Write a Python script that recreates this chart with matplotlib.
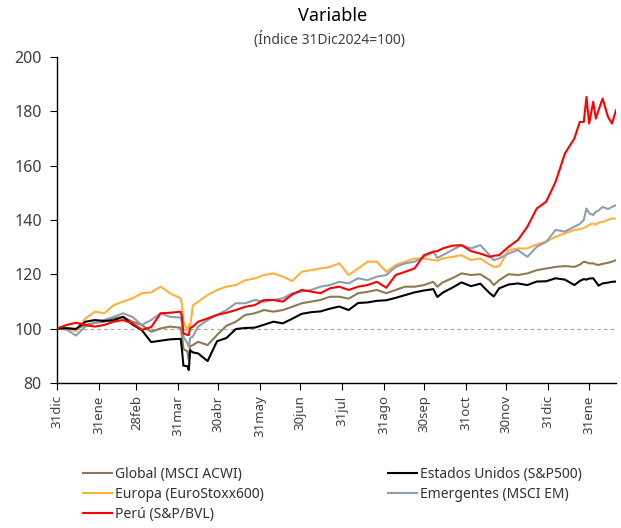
import matplotlib
matplotlib.use('Agg')
import matplotlib.pyplot as plt
import pandas as pd

plt.rcParams['font.family'] = ['Noto Sans', 'DejaVu Sans']

# dates of the sampled points (about weekly, denser around the april crash and jan-feb 2026)
dates = ['2024-12-31', '2025-01-07', '2025-01-14', '2025-01-21', '2025-01-28', '2025-02-04',
         '2025-02-11', '2025-02-18', '2025-02-25', '2025-03-04', '2025-03-11', '2025-03-18',
         '2025-03-25', '2025-04-02', '2025-04-03', '2025-04-04', '2025-04-07', '2025-04-08',
         '2025-04-09', '2025-04-11', '2025-04-15', '2025-04-22', '2025-04-29', '2025-05-06',
         '2025-05-13', '2025-05-20', '2025-05-27', '2025-06-03', '2025-06-10', '2025-06-17',
         '2025-06-24', '2025-07-01', '2025-07-08', '2025-07-15', '2025-07-22', '2025-07-29',
         '2025-08-05', '2025-08-12', '2025-08-19', '2025-08-26', '2025-09-02', '2025-09-09',
         '2025-09-16', '2025-09-23', '2025-09-30', '2025-10-07', '2025-10-10', '2025-10-14',
         '2025-10-21', '2025-10-28', '2025-11-04', '2025-11-11', '2025-11-18', '2025-11-21',
         '2025-11-25', '2025-12-02', '2025-12-09', '2025-12-16', '2025-12-23', '2025-12-30',
         '2026-01-06', '2026-01-13', '2026-01-20', '2026-01-24', '2026-01-27', '2026-01-29',
         '2026-01-31', '2026-02-03', '2026-02-05', '2026-02-07', '2026-02-10', '2026-02-14',
         '2026-02-17', '2026-02-20']

global_acwi = [100.0, 100.1, 99.8, 101.3, 102.1, 102.5, 103.7, 104.3, 102.5, 101.3, 98.8, 100.0,
               100.7, 100.3, 97.0, 92.5, 91.5, 88.4, 93.5, 93.9, 95.1, 93.9, 97.6, 101.0,
               102.5, 105.0, 105.6, 106.8, 106.2, 106.8, 108.0, 109.3, 109.9, 110.5, 111.7, 111.7,
               111.0, 113.0, 113.5, 114.2, 113.0, 114.2, 115.4, 115.4, 116.0, 117.2, 115.4, 117.0,
               118.5, 120.3, 119.7, 120.0, 117.8, 116.0, 117.8, 120.0, 119.7, 120.3, 121.5, 122.1,
               122.7, 123.0, 122.7, 123.5, 124.6, 124.4, 124.0, 124.0, 123.6, 123.4, 123.8, 124.2,
               124.6, 125.2]

usa_sp500 = [100.0, 100.1, 99.8, 102.5, 103.1, 102.8, 103.0, 104.3, 101.5, 99.4, 95.0, 95.5,
             96.0, 96.2, 91.8, 86.3, 86.1, 84.7, 92.0, 91.2, 90.8, 88.0, 95.3, 96.5,
             99.8, 100.2, 100.3, 101.4, 102.5, 101.9, 103.6, 105.4, 106.0, 106.3, 107.3, 108.1,
             106.8, 109.4, 109.6, 110.2, 110.4, 111.3, 112.3, 113.3, 114.0, 114.5, 111.6, 113.2,
             115.0, 117.0, 115.6, 116.5, 113.0, 111.8, 114.8, 116.2, 116.6, 116.0, 117.3, 117.4,
             118.5, 118.0, 116.0, 117.5, 118.2, 118.0, 118.4, 118.5, 117.2, 115.8, 116.6, 116.9,
             117.2, 117.3]

europa = [100.0, 100.0, 99.0, 103.7, 106.2, 105.6, 108.6, 109.9, 111.1, 113.0, 113.3, 115.4,
          113.0, 111.1, 108.5, 102.5, 99.4, 101.5, 100.5, 108.5, 109.9, 112.3, 114.2, 115.4,
          116.0, 117.8, 118.4, 119.7, 120.3, 119.1, 117.5, 120.9, 121.5, 122.1, 122.7, 124.0,
          119.7, 122.1, 124.6, 124.6, 120.9, 123.4, 124.6, 125.8, 125.8, 125.2, 125.0, 125.8,
          126.4, 127.0, 125.2, 125.8, 123.5, 122.7, 122.9, 128.8, 129.5, 129.5, 131.0, 132.0,
          133.8, 135.1, 136.3, 136.6, 137.0, 137.5, 138.2, 138.7, 138.2, 139.0, 139.3, 140.0,
          140.6, 140.4]

emergentes = [100.0, 99.6, 97.4, 100.7, 102.0, 103.1, 104.3, 105.6, 104.3, 101.3, 103.1, 105.6,
              104.3, 104.0, 101.5, 97.0, 94.5, 93.3, 96.5, 97.0, 100.7, 103.1, 105.0, 106.8,
              109.3, 109.3, 110.5, 109.9, 110.5, 111.1, 113.0, 113.6, 114.2, 115.4, 116.0, 117.2,
              116.6, 118.5, 117.8, 119.1, 119.7, 122.7, 124.0, 124.6, 126.4, 128.3, 126.0, 127.0,
              128.9, 130.7, 129.5, 130.7, 127.0, 125.2, 125.8, 127.6, 128.9, 126.4, 130.1, 131.9,
              136.3, 135.7, 137.5, 138.5, 140.0, 144.2, 142.5, 141.8, 143.0, 143.5, 144.8, 144.0,
              144.8, 145.4]

peru = [100.0, 101.3, 102.1, 101.3, 100.7, 101.3, 102.5, 103.1, 101.9, 99.5, 100.5, 105.6,
        105.8, 106.2, 104.0, 98.2, 97.6, 97.6, 100.1, 100.7, 102.5, 103.7, 105.0, 105.8,
        106.8, 108.0, 108.6, 110.5, 110.5, 109.9, 112.5, 114.2, 113.6, 113.0, 114.8, 115.4,
        114.2, 115.4, 116.0, 117.2, 115.0, 119.7, 120.9, 122.1, 127.0, 128.3, 128.5, 129.5,
        130.5, 130.7, 128.5, 127.6, 126.4, 126.8, 127.0, 130.1, 132.6, 137.5, 144.2, 146.7,
        154.0, 164.5, 170.0, 176.1, 176.1, 185.3, 175.5, 183.5, 177.3, 180.4, 184.7, 178.0,
        175.5, 180.4]

tick_dates = ['2024-12-31', '2025-01-31', '2025-02-28', '2025-03-31', '2025-04-30', '2025-05-31',
              '2025-06-30', '2025-07-31', '2025-08-31', '2025-09-30', '2025-10-31', '2025-11-30',
              '2025-12-31', '2026-01-31']
tick_labels = ['31dic', '31ene', '28feb', '31mar', '30abr', '31may', '30jun', '31jul', '31ago',
               '30sep', '31oct', '30nov', '31dic', '31ene']

x = pd.to_datetime(dates)

fig = plt.figure(figsize=(6.21, 5.28), dpi=100)
fig.set_facecolor('w')
ax = fig.add_axes([0.092, 0.275, 0.9, 0.617])

# reference line at 100
ax.axhline(100, color='#a0a0a0', lw=0.8, ls=(0, (3, 3)))

l_glob, = ax.plot(x, global_acwi, color='#8c7b52', lw=1.5, label='Global (MSCI ACWI)')
l_eur, = ax.plot(x, europa, color='#ffb13b', lw=1.5, label='Europa (EuroStoxx600)')
l_em, = ax.plot(x, emergentes, color='#8d9ead', lw=1.5, label='Emergentes (MSCI EM)')
l_us, = ax.plot(x, usa_sp500, color='#000000', lw=1.5, label='Estados Unidos (S&P500)')
l_pe, = ax.plot(x, peru, color='#ff0000', lw=1.5, label='Perú (S&P/BVL)')

ax.set_ylim(80, 200)
ax.set_yticks(range(80, 201, 20))
ax.set_xlim(pd.Timestamp('2024-12-31'), pd.Timestamp('2026-02-20'))
ax.set_xticks(pd.to_datetime(tick_dates))
ax.set_xticklabels(tick_labels, rotation=90)

for s in ['top', 'right']:
    ax.spines[s].set_visible(False)
for s in ['left', 'bottom']:
    ax.spines[s].set_color('black')
    ax.spines[s].set_linewidth(1.0)
ax.tick_params(axis='y', labelsize=11.5, colors='black', labelcolor='#404040', length=5, pad=6)
ax.tick_params(axis='x', labelsize=9.5, colors='black', labelcolor='#404040', length=5, pad=4)

fig.text(0.536, 0.970, 'Variable', ha='center', va='center', fontsize=13, color='black')
fig.text(0.531, 0.926, '(Índice 31Dic2024=100)', ha='center', va='center', fontsize=10, color='#404040')

fig.legend(handles=[l_glob, l_eur, l_pe, l_us, l_em], loc='upper left', bbox_to_anchor=(0.125, 0.126),
           ncol=2, frameon=False, fontsize=10, handlelength=2.1, handletextpad=0.2,
           columnspacing=8.9, labelspacing=0.35, borderaxespad=0, labelcolor='#333333')

plt.savefig('out.png', dpi=100)
plt.close()
